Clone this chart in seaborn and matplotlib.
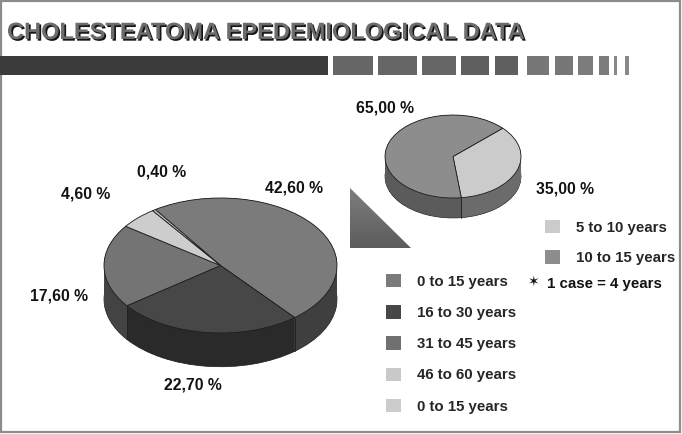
import numpy as np
import matplotlib
matplotlib.use("Agg")
import matplotlib.pyplot as plt
from matplotlib.patches import Rectangle, Polygon, Patch
import matplotlib.patheffects as pe
import seaborn as sns

# data
title = "CHOLESTEATOMA EPEDEMIOLOGICAL DATA"
age_groups = ["0 to 15 years", "16 to 30 years", "31 to 45 years", "46 to 60 years", "0 to 15 years"]
age_share = [42.6, 22.7, 17.6, 4.6, 0.4]
child_groups = ["5 to 10 years", "10 to 15 years"]
child_share = [35.0, 65.0]
note = "1 case = 4 years"

# styles
age_top = ["#7b7b7b", "#474747", "#747474", "#cdcdcd", "#bdbdbd"]
age_side = ["#3f3f3f", "#2a2a2a", "#434343", "#8a8a8a", "#7a7a7a"]
age_legend = ["#7b7b7b", "#474747", "#707070", "#c9c9c9", "#cccccc"]
child_top = ["#cbcbcb", "#8d8d8d"]
child_side = ["#6b6b6b", "#5b5b5b"]

sns.set_theme(style="white")
plt.rcParams["font.family"] = ["Liberation Sans", "DejaVu Sans"]

W, H = 682, 434
fig = plt.figure(figsize=(W / 100, H / 100), dpi=100, facecolor="white")

# background / decoration layer in pixel coordinates
bg = fig.add_axes([0, 0, 1, 1], zorder=0)
bg.set_xlim(0, W)
bg.set_ylim(H, 0)
bg.axis("off")

bg.add_patch(Rectangle((0.8, 0.8), W - 2.6, H - 2.6, fill=False, edgecolor="#8c8c8c", lw=1.6))
bg.text(7, 39, title, fontsize=17, weight="bold", color="#6c6c6c", va="baseline",
        path_effects=[pe.withSimplePatchShadow(offset=(1.2, -1.2), shadow_rgbFace="#151515", alpha=1.0)])

bg.add_patch(Rectangle((0, 56), 328, 19, facecolor="#3b3b3b", edgecolor="none"))
segs = [(333, 373), (378, 417), (422, 456), (461, 489), (495, 518), (527, 549),
        (555, 573), (578, 593), (599, 609), (614, 617), (625, 629)]
seg_cols = ["#666666", "#666666", "#666666", "#5f5f5f", "#5f5f5f", "#777777",
            "#777777", "#7c7c7c", "#7c7c7c", "#888888", "#888888"]
for (x0, x1), c in zip(segs, seg_cols):
    bg.add_patch(Rectangle((x0, 56), x1 - x0, 19, facecolor=c, edgecolor="none"))

tri = Polygon([(350, 188), (350, 248), (411, 248)], closed=True, facecolor="none", edgecolor="none")
bg.add_patch(tri)
grad = np.linspace(0, 1, 64).reshape(-1, 1) * np.ones((1, 64))
img = bg.imshow(grad, cmap=matplotlib.colors.LinearSegmentedColormap.from_list("g", ["#7e7e7e", "#5c5c5c"]),
                extent=(350, 411, 248, 188), aspect="auto", zorder=1)
img.set_clip_path(tri)
bg.set_xlim(0, W)
bg.set_ylim(H, 0)


def pie3d(ax, values, tops, sides, start, depth, layers=40):
    for off in np.linspace(depth, 0, layers):
        ax.pie(values, colors=sides, startangle=start, counterclock=False,
               center=(0, -off), radius=1, frame=True,
               wedgeprops=dict(linewidth=0.5 if off == depth else 0,
                               edgecolor="#1a1a1a"))
    ax.pie(values, colors=tops, startangle=start, counterclock=False, frame=True,
           wedgeprops=dict(linewidth=0.6, edgecolor="#1e1e1e"))
    # vertical seams on the visible side
    fr = np.cumsum([0] + list(values)) / np.sum(values)
    for f in fr[:-1]:
        th = np.deg2rad(start - 360 * f)
        if np.sin(th) < 0:
            ax.plot([np.cos(th)] * 2, [np.sin(th), np.sin(th) - depth], color="#1e1e1e", lw=0.6)
    ax.set_aspect("auto")
    ax.axis("off")


big = fig.add_axes([80.7 / W, 0.1083, 0.41, 0.4666], zorder=2)
pie3d(big, age_share, age_top, age_side, 124, 0.50)
big.set_xlim(-1.2, 1.2)
big.set_ylim(-1.8, 1.2)

big_label_xy = [(0.63, 1.15), (-0.24, -1.77), (-1.39, -0.45), (-1.16, 1.06), (-0.51, 1.39)]
for v, (x, y) in zip(age_share, big_label_xy):
    big.text(x, y, f"{v:.2f} %".replace(".", ","), ha="center", va="center",
             fontsize=11.3, weight="bold", color="#111111")

small = fig.add_axes([371.4 / W, 0.4768, 0.2393, 0.2773], zorder=2)
pie3d(small, child_share, child_top, child_side, 43, 0.48)
small.set_xlim(-1.2, 1.2)
small.set_ylim(-1.7, 1.2)

small_label_xy = [(1.65, -0.78), (-1.0, 1.18)]
for v, (x, y) in zip(child_share, small_label_xy):
    small.text(x, y, f"{v:.2f} %".replace(".", ","), ha="center", va="center",
               fontsize=11.3, weight="bold", color="#111111")

leg_kw = dict(loc="upper left", frameon=False, borderpad=0, borderaxespad=0,
              handlelength=1.0, handleheight=1.0, handletextpad=1.05,
              prop=dict(size=10.8, weight="bold"))
fig.legend([Patch(facecolor=c, edgecolor="none") for c in age_legend], age_groups,
           bbox_to_anchor=(386 / W, 1 - 274 / H), labelspacing=1.09, **leg_kw)
fig.legend([Patch(facecolor=c, edgecolor="none") for c in child_top], child_groups,
           bbox_to_anchor=(545 / W, 1 - 220 / H), labelspacing=1.04, **leg_kw)

fig.text(534 / W, 1 - 282 / H, "\u2736", ha="center", va="center", fontsize=10,
         family=["DejaVu Sans"], color="#111111")
fig.text(547 / W, 1 - 284 / H, note, va="center", fontsize=10.8, weight="bold", color="#111111")

fig.savefig("out.png", dpi=100, facecolor="white")
